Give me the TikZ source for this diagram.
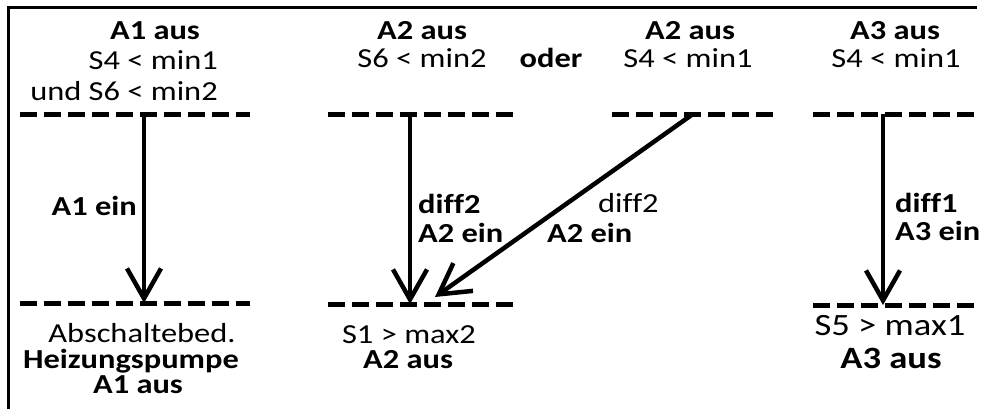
\documentclass[tikz,border=0pt]{standalone}
\usepackage{fontspec}
\setmainfont{Carlito}[FakeStretch=1.18,Ligatures=NoCommon]
\usetikzlibrary{arrows.meta}
\begin{document}
\begin{tikzpicture}[x=1pt,y=-1pt,
  txt/.style={inner sep=0pt,anchor=base,font=\fontsize{27.5}{27.5}\selectfont},
  btxt/.style={txt,font=\fontsize{27.5}{27.5}\selectfont\bfseries},
  bigtxt/.style={inner sep=0pt,anchor=base,font=\fontsize{31}{31}\selectfont},
  bigbtxt/.style={bigtxt,font=\fontsize{31}{31}\selectfont\bfseries},
  level/.style={line width=5pt,dash pattern=on 17pt off 7pt},
  trans/.style={line width=4.5pt,-{Straight Barb[length=30pt,width=34pt]}},
  frame/.style={line width=3pt}]
\useasboundingbox (0,0) rectangle (981,409);
% frame
\coordinate (fb) at (8,409);
\coordinate (fc) at (8,8);
\coordinate (fr) at (977,8);
\draw[frame] (fb) -- (fc) -- (fr);
% level lines
\coordinate (a1) at (20,114);  \coordinate (a2) at (250,114);
\coordinate (b1) at (20,303);  \coordinate (b2) at (250,303);
\coordinate (c1) at (328,114); \coordinate (c2) at (513,114);
\coordinate (d1) at (328,304); \coordinate (d2) at (515,304);
\coordinate (e1) at (612,114); \coordinate (e2) at (775,114);
\coordinate (f1) at (813,114); \coordinate (f2) at (979,114);
\coordinate (g1) at (813,305); \coordinate (g2) at (979,305);
\foreach \p/\q in {a1/a2,b1/b2,c1/c2,d1/d2,e1/e2,f1/f2,g1/g2}
  \draw[level] (\p) -- (\q);
% arrow endpoints
\coordinate (s1) at (144,114); \coordinate (t1) at (144,303);
\coordinate (s2) at (410,114); \coordinate (t2) at (410,304);
\coordinate (s3) at (693,114); \coordinate (t3) at (435,297);
\coordinate (s4) at (883,114); \coordinate (t4) at (883,305);
\draw[trans] (s1) -- (t1);
\draw[trans] (s2) -- (t2);
\draw[trans] (s3) -- (t3);
\draw[trans] (s4) -- (t4);
% column 1
\node[btxt] (h1) at (155,40) {A1 aus};
\node[txt,anchor=base east] (c1a) at (218,70) {S4 < min1};
\node[txt,anchor=base east] (c1b) at (218,100) {und S6 < min2};
\node[btxt,anchor=base east] (e1l) at (137,215) {A1 ein};
\node[txt] (o1a) at (142,342) {Abschaltebed.};
\node[btxt] (o1b) at (131,368) {Heizungspumpe};
\node[btxt] (o1c) at (138,393) {A1 aus};
% column 2
\node[btxt] (h2) at (422,40) {A2 aus};
\node[txt] (c2a) at (422,68) {S6 < min2};
\node[btxt] (oder) at (551,68) {oder};
\node[btxt,anchor=base west] (e2a) at (418,213) {diff2};
\node[btxt,anchor=base west] (e2b) at (418,242) {A2 ein};
\node[txt] (o2a) at (409,343) {S1 > max2};
\node[btxt] (o2b) at (408,368) {A2 aus};
% column 3
\node[btxt] (h3) at (690,40) {A2 aus};
\node[txt] (c3a) at (688,68) {S4 < min1};
\node[txt,anchor=base west] (e3a) at (598,212) {diff2};
\node[btxt,anchor=base west] (e3b) at (547,242) {A2 ein};
% column 4
\node[btxt] (h4) at (895,40) {A3 aus};
\node[txt] (c4a) at (896,68) {S4 < min1};
\node[btxt,anchor=base west] (e4a) at (895,212) {diff1};
\node[btxt,anchor=base west] (e4b) at (895,240) {A3 ein};
\node[bigtxt] (o4a) at (890,335) {S5 > max1};
\node[bigbtxt] (o4b) at (891,368) {A3 aus};
\end{tikzpicture}
\end{document}
